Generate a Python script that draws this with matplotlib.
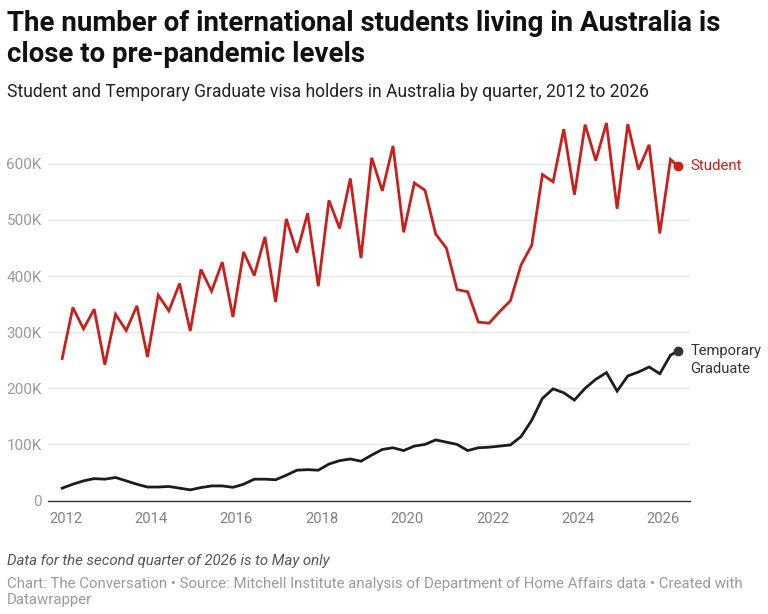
import matplotlib
matplotlib.use("Agg")
import matplotlib.pyplot as plt
import pandas as pd

plt.rcParams['font.family'] = ['Roboto', 'DejaVu Sans']

# Observation dates: end month of each quarter from Dec 2011, last one is May 2026
dates = list(pd.date_range('2011-12-01', periods=58, freq='3MS')) + [pd.Timestamp('2026-05-01')]

student = [253, 344, 306, 341, 242, 332, 303, 347, 256, 366, 338, 387, 302, 412, 373, 425,
           327, 443, 401, 470, 354, 502, 442, 512, 382, 535, 485, 574, 432, 611, 552, 632,
           478, 566, 553, 475, 450, 376, 372, 318, 316, 337, 356, 420, 455, 581, 568, 662,
           545, 670, 606, 673, 520, 671, 590, 634, 476, 608, 596]

temp_grad = [22, 29, 35, 39, 38, 41, 35, 29, 24, 24, 25, 22, 19, 23, 26, 26,
             23.5, 29, 38, 38, 37, 45, 54, 55, 54, 65, 71, 74, 70, 81, 91, 94,
             89, 97, 100, 108, 104, 100, 89, 94, 95, 97, 99, 114, 143, 182, 199, 192,
             179, 200, 216, 228, 195, 222, 229, 238, 226, 259, 266]

y_ticks = [0, 100, 200, 300, 400, 500, 600]
y_labels = ["0", "100K", "200K", "300K", "400K", "500K", "600K"]
x_ticks = [2012, 2014, 2016, 2018, 2020, 2022, 2024, 2026]

series_names = ["Student", "Temporary\nGraduate"]
RED = '#c8201c'
BLACK = '#1c1c1c'

x = [d.year + (d.month - 1) / 12 for d in dates]

W, H = 768, 614
fig = plt.figure(figsize=(W / 100, H / 100), dpi=100)
ax = fig.add_axes([48 / W, 1 - 500.5 / H, (690 - 48) / W, (500.5 - 119) / H])

ax.plot(x, student, color=RED, lw=2.0, solid_joinstyle='miter', zorder=3)
ax.plot(x, temp_grad, color=BLACK, lw=2.0, solid_joinstyle='miter', zorder=3)
ax.plot(x[-1], student[-1], 'o', color=RED, ms=6, zorder=4, clip_on=False)
ax.plot(x[-1], temp_grad[-1], 'o', color='#333333', ms=6, zorder=4, clip_on=False)

ax.annotate(series_names[0], (x[-1], student[-1]), xytext=(12.5, 0), textcoords='offset pixels',
            color=RED, fontsize=10.8, va='center', ha='left', annotation_clip=False)
ax.annotate(series_names[1], (x[-1], temp_grad[-1]), xytext=(13, 7), textcoords='offset pixels',
            color='#333333', fontsize=10.6, va='top', ha='left', linespacing=1.3,
            annotation_clip=False)

ax.set_xlim(2011.585, 2026.624)
ax.set_ylim(0, 680)
ax.set_yticks(y_ticks)
ax.set_yticklabels(y_labels)
ax.set_xticks(x_ticks)
ax.set_xticklabels([str(t) for t in x_ticks])
ax.tick_params(axis='y', length=0, pad=4.5, labelsize=11, labelcolor='#9a9a9a')
ax.tick_params(axis='x', length=0, pad=8, labelsize=10.6, labelcolor='#808080')
ax.grid(axis='y', color='#e6e6e6', lw=0.9, zorder=0)
ax.set_axisbelow(True)
for s in ['top', 'right', 'left']:
    ax.spines[s].set_visible(False)
ax.spines['bottom'].set_color('#333333')
ax.spines['bottom'].set_linewidth(1.0)
ax.spines['bottom'].set_zorder(2)

def fy(px):
    return 1 - px / H

fig.text(7 / W, fy(31), "The number of international students living in Australia is",
         fontsize=19.9, fontweight='bold', color='#111111', va='baseline', ha='left')
fig.text(7 / W, fy(62.3), "close to pre-pandemic levels",
         fontsize=19.9, fontweight='bold', color='#111111', va='baseline', ha='left')
fig.text(7 / W, fy(97), "Student and Temporary Graduate visa holders in Australia by quarter, 2012 to 2026",
         fontsize=12.65, color='#222222', va='baseline', ha='left')
fig.text(7 / W, fy(565), "Data for the second quarter of 2026 is to May only",
         fontsize=10.85, style='italic', color='#555555', va='baseline', ha='left')
fig.text(7 / W, fy(588.3),
         "Chart: The Conversation \u2022 Source: Mitchell Institute analysis of Department of Home Affairs data \u2022 Created with",
         fontsize=10.8, color='#9a9a9a', va='baseline', ha='left')
fig.text(7 / W, fy(604), "Datawrapper",
         fontsize=10.8, color='#9a9a9a', va='baseline', ha='left')

fig.savefig('out.png', dpi=100)
